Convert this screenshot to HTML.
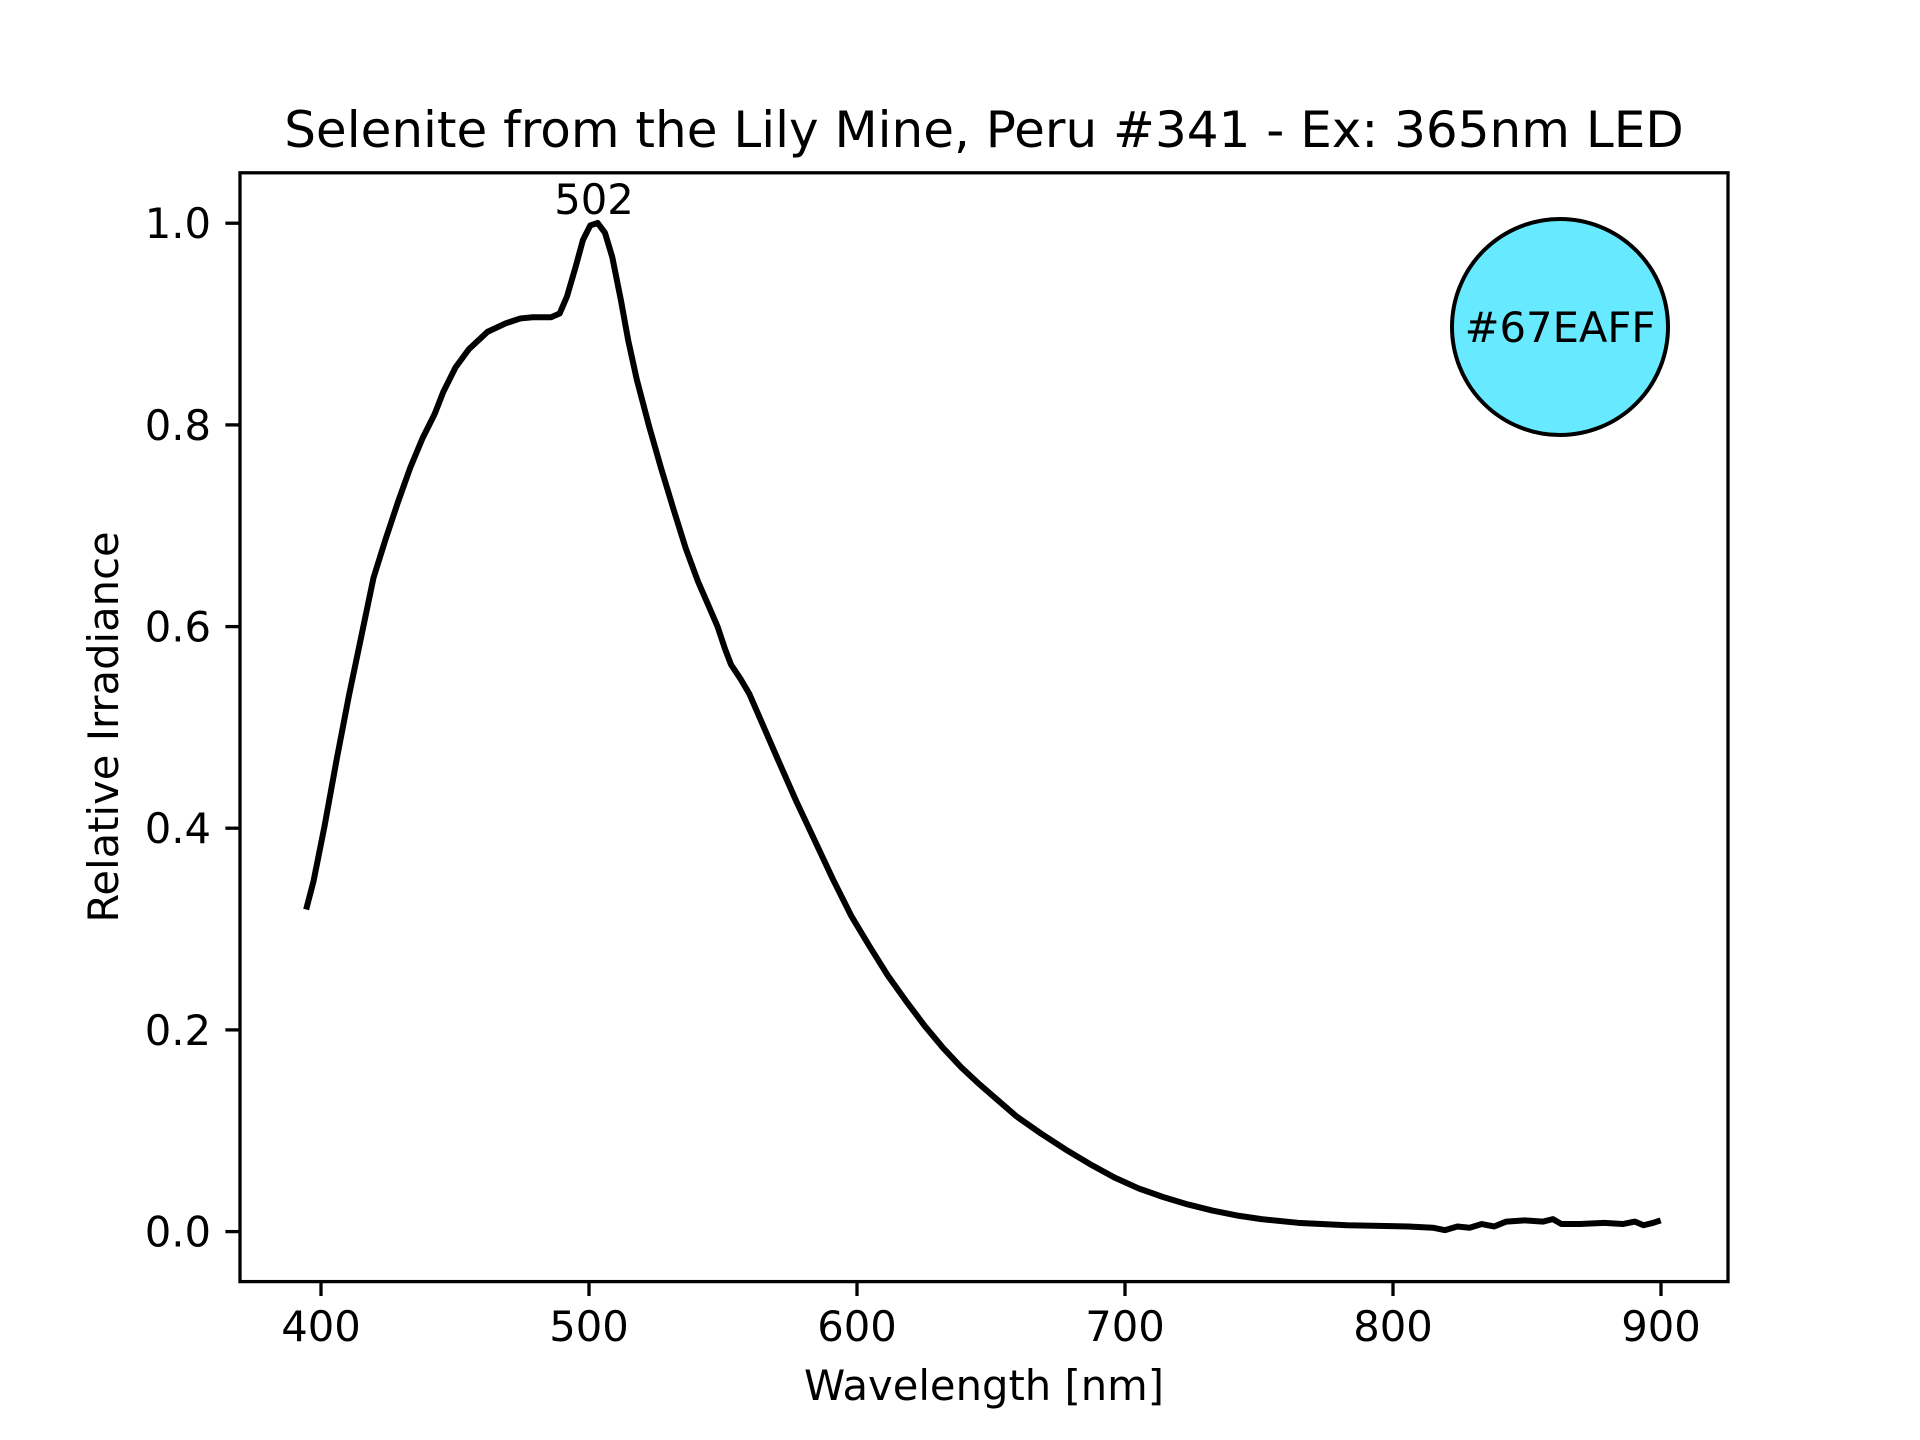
<!DOCTYPE html>
<html><head><meta charset="utf-8"><style>
html,body{margin:0;padding:0;background:#fff}
svg{display:block}
text{font-family:"DejaVu Sans","Liberation Sans",sans-serif;fill:#000}
</style></head><body>
<svg width="1920" height="1440" viewBox="0 0 1920 1440" xmlns="http://www.w3.org/2000/svg">
<rect width="1920" height="1440" fill="#fff"/>
<text x="984" y="147" font-size="50" text-anchor="middle">Selenite from the Lily Mine, Peru #341 - Ex: 365nm LED</text>
<g transform="translate(240,172.8) scale(1.2247,1.2238) translate(-196,-141)">
<path fill="none" stroke="#000" stroke-width="6" vector-effect="non-scaling-stroke" stroke-linejoin="round" d="M250,743 L256,720 L265,675 L275,620 L285,568 L295,520 L305,472 L315,440 L325,410 L335,382 L345,358 L355,338 L362,320 L372,300 L383,285 L398,271 L413,264 L425,260 L435,259 L450,259 L457,256 L463,242 L470,218 L476,196 L482,184 L488,182 L494,190 L500,210 L507,245 L513,278 L520,310 L530,348 L540,383 L550,416 L560,448 L570,475 L580,498 L586,512 L592,530 L597,543 L605,555 L612,567 L622,590 L635,620 L650,654 L665,686 L680,718 L695,748 L710,773 L725,797 L740,818 L755,838 L770,856 L785,872 L800,886 L815,899 L830,912 L850,926 L870,939 L890,951 L910,962 L930,971 L950,978 L970,984 L990,989 L1010,993 L1030,996 L1060,999 L1100,1001 L1150,1002 L1170,1003 L1180,1005 L1190,1002 L1200,1003 L1210,1000 L1220,1002 L1230,998 L1245,997 L1260,998 L1268,996 L1275,1000 L1290,1000 L1310,999 L1325,1000 L1335,998 L1342,1001 L1350,999 L1356,997"/>
</g>
<rect x="240" y="172.8" width="1488" height="1108.8" fill="none" stroke="#000" stroke-width="3.3"/>
<g stroke="#000" stroke-width="3.3">
<line x1="321" y1="1281.6" x2="321" y2="1296"/>
<line x1="589" y1="1281.6" x2="589" y2="1296"/>
<line x1="857" y1="1281.6" x2="857" y2="1296"/>
<line x1="1125" y1="1281.6" x2="1125" y2="1296"/>
<line x1="1393" y1="1281.6" x2="1393" y2="1296"/>
<line x1="1661" y1="1281.6" x2="1661" y2="1296"/>
<line x1="225.4" y1="1231.6" x2="240" y2="1231.6"/>
<line x1="225.4" y1="1029.9" x2="240" y2="1029.9"/>
<line x1="225.4" y1="828.2" x2="240" y2="828.2"/>
<line x1="225.4" y1="626.6" x2="240" y2="626.6"/>
<line x1="225.4" y1="424.9" x2="240" y2="424.9"/>
<line x1="225.4" y1="223.2" x2="240" y2="223.2"/>
</g>
<g font-size="41.7" text-anchor="middle">
<text x="321" y="1341">400</text>
<text x="589" y="1341">500</text>
<text x="857" y="1341">600</text>
<text x="1125" y="1341">700</text>
<text x="1393" y="1341">800</text>
<text x="1661" y="1341">900</text>
</g>
<g font-size="41.7" text-anchor="end">
<text x="211" y="1246.6">0.0</text>
<text x="211" y="1044.9">0.2</text>
<text x="211" y="843.2">0.4</text>
<text x="211" y="641.6">0.6</text>
<text x="211" y="439.9">0.8</text>
<text x="211" y="238.2">1.0</text>
</g>
<text x="984" y="1400" font-size="41.7" text-anchor="middle">Wavelength [nm]</text>
<text transform="translate(118,727) rotate(-90)" font-size="41.7" text-anchor="middle">Relative Irradiance</text>
<text x="594" y="214" font-size="41.7" text-anchor="middle">502</text>
<circle cx="1560" cy="327" r="108" fill="#67EAFF" stroke="#000" stroke-width="4"/>
<text x="1560" y="342" font-size="41.7" text-anchor="middle">#67EAFF</text>
</svg>
</body></html>
